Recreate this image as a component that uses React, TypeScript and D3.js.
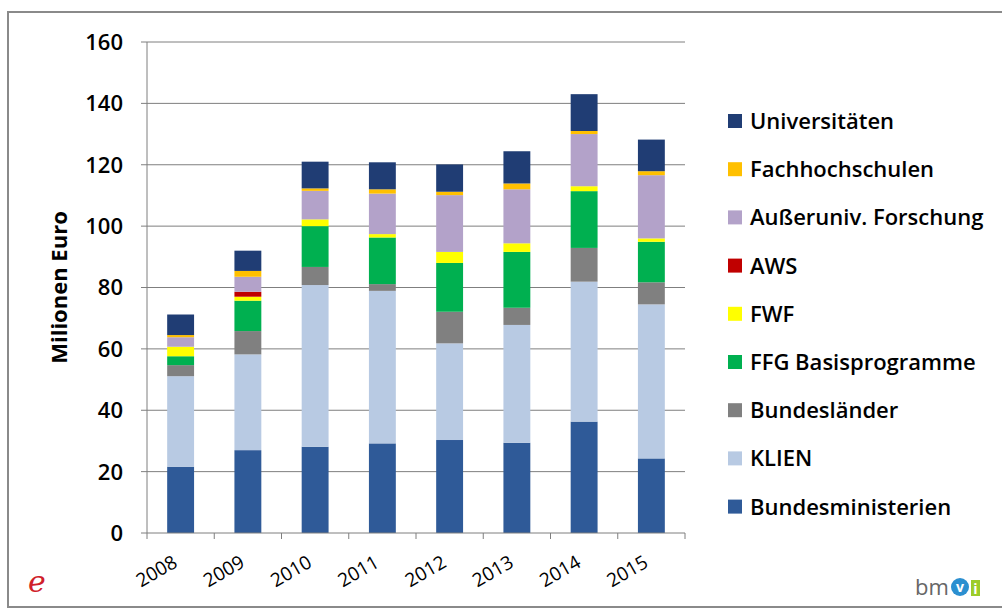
import React from "react";
import * as d3 from "d3";

const years = ["2008", "2009", "2010", "2011", "2012", "2013", "2014", "2015"];
const seriesNames = [
  "Bundesministerien",
  "KLIEN",
  "Bundesländer",
  "FFG Basisprogramme",
  "FWF",
  "AWS",
  "Außeruniv. Forschung",
  "Fachhochschulen",
  "Universitäten",
];
const bundesministerien = [21.6, 27.0, 28.1, 29.2, 30.3, 29.4, 36.3, 24.3];
const klien = [29.5, 31.2, 52.7, 49.7, 31.5, 38.4, 45.6, 50.2];
const bundeslaender = [3.6, 7.6, 5.9, 2.2, 10.3, 5.6, 11.0, 7.2];
const ffg = [2.9, 9.9, 13.3, 15.2, 15.9, 18.2, 18.5, 13.2];
const fwf = [3.1, 1.3, 2.2, 1.1, 3.6, 2.8, 1.6, 1.1];
const aws = [0, 1.6, 0, 0, 0, 0, 0, 0];
const ausseruniv = [3.1, 4.9, 9.3, 13.2, 18.5, 17.6, 17.0, 20.6];
const fachhochschulen = [0.7, 1.9, 0.8, 1.4, 1.1, 1.9, 1.0, 1.3];
const universitaeten = [6.7, 6.6, 8.7, 8.8, 8.9, 10.5, 12.0, 10.3];
const yTicks = [0, 20, 40, 60, 80, 100, 120, 140, 160];

const seriesValues = [
  bundesministerien,
  klien,
  bundeslaender,
  ffg,
  fwf,
  aws,
  ausseruniv,
  fachhochschulen,
  universitaeten,
];
const colors = [
  "#2F5A98",
  "#B8CAE3",
  "#808080",
  "#00B050",
  "#FFFF00",
  "#C00000",
  "#B3A2C9",
  "#FFC000",
  "#203D74",
];

const FONT = "'Open Sans', Lato, sans-serif";

export default function App() {
  const W = 1002;
  const H = 610;
  const left = 147;
  const right = 685;
  const top = 42;
  const bottom = 533;

  const x = d3.scaleBand<string>().domain(years).range([left, right]).paddingInner(0.6).paddingOuter(0.3);
  const y = d3.scaleLinear().domain([0, 160]).range([bottom, top]);

  const table = years.map((yr, i) => {
    const row: any = { year: yr };
    seriesNames.forEach((s, j) => (row[s] = seriesValues[j][i]));
    return row;
  });
  const stacked = d3.stack<any>().keys(seriesNames)(table);

  const step = (right - left) / years.length;
  const boundaries = d3.range(years.length + 1).map((i) => left + i * step);

  const legendOrder = [...seriesNames].reverse();
  const legendTop = 121;
  const legendStep = 48.2;

  return (
    <svg
      width={W}
      height={H}
      style={{ position: "absolute", left: 0, top: 0, background: "#fff" }}
      fontFamily={FONT}
    >
      <rect x={0} y={0} width={W} height={H} fill="#fff" />
      <rect x={8} y={12} width={1010} height={595} fill="#fff" stroke="#8a8a8a" strokeWidth={2} />

      {/* gridlines */}
      {yTicks.filter((t) => t > 0).map((t) => (
        <line key={t} x1={left} x2={right} y1={y(t)} y2={y(t)} stroke="#7f7f7f" strokeWidth={1} />
      ))}

      {/* bars */}
      {stacked.map((layer, j) => (
        <g key={layer.key} fill={colors[j]}>
          {layer.map((d, i) =>
            d[1] - d[0] > 0 ? (
              <rect
                key={i}
                x={x(years[i])}
                width={x.bandwidth()}
                y={y(d[1])}
                height={y(d[0]) - y(d[1])}
              />
            ) : null
          )}
        </g>
      ))}

      {/* axes */}
      <line x1={left} x2={left} y1={top} y2={bottom} stroke="#7f7f7f" strokeWidth={1} />
      <line x1={left} x2={right} y1={bottom} y2={bottom} stroke="#7f7f7f" strokeWidth={1} />
      {yTicks.map((t) => (
        <g key={t}>
          <line x1={left - 6} x2={left} y1={y(t)} y2={y(t)} stroke="#7f7f7f" />
          <text x={123} y={y(t)} dy="0.36em" textAnchor="end" fontSize={22} fontWeight={600} fill="#000">
            {t}
          </text>
        </g>
      ))}
      {boundaries.map((bx, i) => (
        <line key={i} x1={bx} x2={bx} y1={bottom} y2={bottom + 6} stroke="#7f7f7f" />
      ))}
      {years.map((yr) => {
        const cx = (x(yr) as number) + x.bandwidth() / 2;
        return (
          <text
            key={yr}
            transform={`translate(${cx - 2},${bottom + 33}) rotate(-30)`}
            textAnchor="end"
            fontSize={19}
            fill="#000"
          >
            {yr}
          </text>
        );
      })}

      <text
        transform={`translate(67,${(top + bottom) / 2}) rotate(-90)`}
        textAnchor="middle"
        fontSize={22}
        fontWeight="bold"
        fill="#000"
      >
        Milionen Euro
      </text>

      {/* legend */}
      {legendOrder.map((name, k) => {
        const j = seriesNames.indexOf(name);
        const cy = legendTop + k * legendStep;
        return (
          <g key={name}>
            <rect x={728} y={cy - 7} width={14} height={14} fill={colors[j]} />
            <text x={750} y={cy} dy="0.36em" fontSize={22} fontWeight={600} fill="#000">
              {name}
            </text>
          </g>
        );
      })}

      {/* logos */}
      <text x={28} y={592} fontSize={30} fontStyle="italic" fontFamily="'DejaVu Serif', serif" fill="#d0202a">
        e
      </text>
      <text x={915} y={595} fontSize={22} fill="#666">
        bm
      </text>
      <circle cx={960} cy={587} r={9} fill="#2b8fd0" />
      <text x={960} y={592} fontSize={14} fontWeight="bold" fill="#fff" textAnchor="middle">
        v
      </text>
      <rect x={971} y={580} width={9} height={16} fill="#9ccc2a" />
      <text x={975.5} y={594} fontSize={14} fontWeight="bold" fill="#fff" textAnchor="middle">
        i
      </text>
    </svg>
  );
}
